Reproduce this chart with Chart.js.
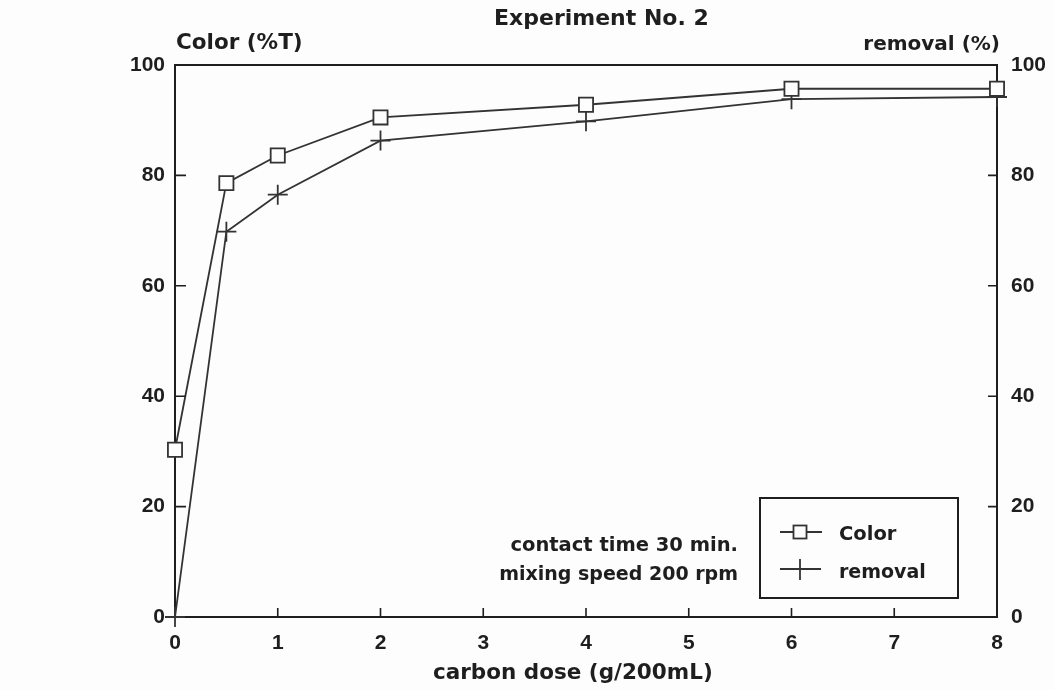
<!DOCTYPE html>
<html>
<head>
<meta charset="utf-8">
<script src="https://cdn.jsdelivr.net/npm/chart.js@4.4.1/dist/chart.umd.min.js"></script>
<style>
  html, body { margin: 0; padding: 0; background: #fdfdfd; }
  #wrap { width: 1054px; height: 690px; }
</style>
</head>
<body>
<div id="wrap"><canvas id="chart" width="1054" height="690"></canvas></div>
<script>
// values
const doses = [0, 0.5, 1, 2, 4, 6, 8];
const colorT = [30.3, 78.6, 83.6, 90.5, 92.8, 95.7, 95.7];
const removalPct = [0, 69.8, 76.5, 86.3, 89.8, 93.8, 94.2];
const xTickValues = [1, 2, 3, 4, 5, 6, 7];
const yTickValues = [20, 40, 60, 80];

const ink = "#1e1e1e";
const lineInk = "#333333";
const tickFont = { family: "'Liberation Sans', Arial, sans-serif", size: 21, weight: "bold" };

function pts(xs, ys) {
    return xs.map((x, i) => ({ x: x, y: ys[i] }));
}

function txt(ctx, s, x, y, size, align) {
    ctx.save();
    ctx.font = "bold " + size + "px 'DejaVu Sans', sans-serif";
    ctx.fillStyle = ink;
    ctx.textBaseline = "alphabetic";
    ctx.textAlign = align || "left";
    ctx.fillText(s, x, y);
    ctx.restore();
}

const decor = {
    id: "decor",
    afterDraw(chart) {
        const ctx = chart.ctx;
        const a = chart.chartArea;
        const sx = chart.scales.x, sy = chart.scales.y, sy2 = chart.scales.y2;

        ctx.save();
        ctx.strokeStyle = ink;
        ctx.lineWidth = 2;
        // top edge of the frame
        ctx.beginPath();
        ctx.moveTo(a.left, a.top);
        ctx.lineTo(a.right, a.top);
        ctx.stroke();

        // inward tick marks
        ctx.lineWidth = 1.6;
        ctx.beginPath();
        yTickValues.forEach(v => {
            const py = sy.getPixelForValue(v);
            ctx.moveTo(a.left, py);
            ctx.lineTo(a.left + 11, py);
            const py2 = sy2.getPixelForValue(v);
            ctx.moveTo(a.right, py2);
            ctx.lineTo(a.right - 9, py2);
        });
        xTickValues.forEach(v => {
            const px = sx.getPixelForValue(v);
            ctx.moveTo(px, a.bottom);
            ctx.lineTo(px, a.bottom - 9);
        });
        ctx.stroke();
        ctx.restore();

        // titles
        txt(ctx, "Experiment No. 2", 494, 25, 22);
        txt(ctx, "Color (%T)", 176, 49, 21.5);
        txt(ctx, "removal (%)", 1000, 50, 20, "right");
        txt(ctx, "carbon dose (g/200mL)", 433, 679, 21.5);

        // run conditions
        txt(ctx, "contact time 30 min.", 738, 551, 19.5, "right");
        txt(ctx, "mixing speed 200 rpm", 738, 580, 19, "right");

        // legend box
        ctx.save();
        ctx.strokeStyle = ink;
        ctx.lineWidth = 2;
        ctx.fillStyle = "#fdfdfd";
        ctx.fillRect(760, 498, 198, 100);
        ctx.strokeRect(760, 498, 198, 100);

        ctx.strokeStyle = lineInk;
        ctx.lineWidth = 1.8;
        ctx.beginPath();
        ctx.moveTo(780, 532); ctx.lineTo(822, 532);
        ctx.moveTo(780, 569); ctx.lineTo(821, 569);
        ctx.moveTo(800, 559); ctx.lineTo(800, 580);
        ctx.stroke();
        ctx.fillStyle = "#fdfdfd";
        ctx.fillRect(793.5, 525.5, 13, 13);
        ctx.strokeRect(793.5, 525.5, 13, 13);
        ctx.restore();

        txt(ctx, "Color", 839, 540, 19.5);
        txt(ctx, "removal", 839, 578, 19);
    }
};

new Chart(document.getElementById("chart"), {
    type: "line",
    data: {
        datasets: [{
            label: "Color",
            data: pts(doses, colorT),
            yAxisID: "y",
            clip: false,
            borderColor: lineInk,
            borderWidth: 1.8,
            pointStyle: "rect",
            pointRadius: 10,
            pointBorderWidth: 1.8,
            pointBorderColor: lineInk,
            pointBackgroundColor: "#fdfdfd",
            tension: 0
        }, {
            label: "removal",
            data: pts(doses, removalPct),
            yAxisID: "y2",
            clip: false,
            borderColor: lineInk,
            borderWidth: 1.8,
            pointStyle: "cross",
            pointRadius: 10,
            pointBorderWidth: 1.8,
            pointBorderColor: lineInk,
            tension: 0
        }]
    },
    options: {
        responsive: false,
        animation: false,
        maintainAspectRatio: false,
        layout: { padding: { top: 65, left: 0, right: 0, bottom: 0 } },
        plugins: {
            legend: { display: false },
            tooltip: { enabled: false }
        },
        scales: {
            x: {
                type: "linear",
                min: 0,
                max: 8,
                grid: { display: false, drawTicks: false },
                border: { display: true, color: ink, width: 2 },
                ticks: { stepSize: 1, color: ink, font: tickFont, padding: 14 },
                afterFit(s) { s.height = 73; }
            },
            y: {
                position: "left",
                min: 0,
                max: 100,
                grid: { display: false, drawTicks: false },
                border: { display: true, color: ink, width: 2 },
                ticks: { stepSize: 20, color: ink, font: tickFont, padding: 10 },
                afterFit(s) { s.width = 175; }
            },
            y2: {
                position: "right",
                min: 0,
                max: 100,
                grid: { display: false, drawTicks: false },
                border: { display: true, color: ink, width: 2 },
                ticks: { stepSize: 20, color: ink, font: tickFont, padding: 14 },
                afterFit(s) { s.width = 57; }
            }
        }
    },
    plugins: [decor]
});
</script>
</body>
</html>
